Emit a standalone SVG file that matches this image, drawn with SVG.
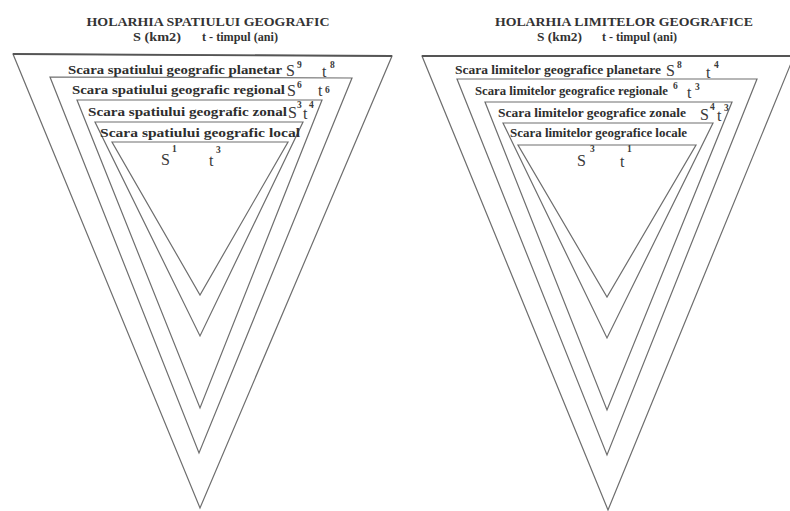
<svg xmlns="http://www.w3.org/2000/svg" width="790" height="511" viewBox="0 0 790 511">
<style>
.tri{fill:none;stroke:#6e6e6e;stroke-width:1.2;stroke-linejoin:miter}
.top{stroke:#555;stroke-width:1.8}
.ttl{font-family:"Liberation Serif",serif;font-weight:bold;font-size:12.5px;fill:#333}
.sub{font-family:"Liberation Serif",serif;font-weight:bold;font-size:11.5px;fill:#333}
.lbl{font-family:"Liberation Serif",serif;font-weight:bold;font-size:12px;fill:#2e2e2e}
.sym{font-family:"Liberation Serif",serif;font-size:16px;fill:#3a3a3a}
.sup{font-family:"Liberation Serif",serif;font-weight:bold;font-size:9.5px;fill:#3a3a3a}
</style>
<rect width="790" height="511" fill="#ffffff"/>
<g id="left-diagram">
<text class="ttl" x="208" y="26" text-anchor="middle" textLength="243" lengthAdjust="spacingAndGlyphs">HOLARHIA SPATIULUI GEOGRAFIC</text>
<text class="sub" x="133" y="41" textLength="48" lengthAdjust="spacingAndGlyphs">S (km2)</text>
<text class="sub" x="202" y="41" textLength="76" lengthAdjust="spacingAndGlyphs">t - timpul (ani)</text>
<g id="L1"><polygon class="tri" points="13,54 392,56 200,508"/><line class="tri top" x1="13" y1="54" x2="392" y2="56"/>
<text class="lbl" x="68" y="74" textLength="214" lengthAdjust="spacingAndGlyphs">Scara spatiului geografic planetar</text>
<text class="sym" x="286" y="76">S</text><text class="sup" x="297" y="68">9</text>
<text class="sym" x="322" y="77">t</text><text class="sup" x="330" y="68">8</text></g>
<g id="L2"><polygon class="tri" points="50,77 352,78 199,453"/>
<text class="lbl" x="72" y="94" textLength="213" lengthAdjust="spacingAndGlyphs">Scara spatiului geografic regional</text>
<text class="sym" x="287" y="96">S</text><text class="sup" x="297" y="88">6</text>
<text class="sym" x="318" y="96">t</text><text class="sup" x="325" y="93">6</text></g>
<g id="L3"><polygon class="tri" points="77,100 322,100 200,408"/>
<text class="lbl" x="88" y="116" textLength="199" lengthAdjust="spacingAndGlyphs">Scara spatiului geografic zonal</text>
<text class="sym" x="288" y="118">S</text><text class="sup" x="297" y="108">3</text>
<text class="sym" x="303" y="119">t</text><text class="sup" x="309" y="108">4</text></g>
<g id="L4"><polygon class="tri" points="95,122 303,122 200,336"/>
<text class="lbl" x="100" y="137" textLength="200" lengthAdjust="spacingAndGlyphs">Scara spatiului geografic local</text></g>
<g id="L5"><polygon class="tri" points="112,142 288,142 200,295"/>
<text class="sym" x="161" y="165">S</text><text class="sup" x="172" y="152">1</text>
<text class="sym" x="209" y="166">t</text><text class="sup" x="216" y="153">3</text></g>
</g>
<g id="right-diagram">
<text class="ttl" x="624" y="26" text-anchor="middle" textLength="258" lengthAdjust="spacingAndGlyphs">HOLARHIA LIMITELOR GEOGRAFICE</text>
<text class="sub" x="537" y="41" textLength="45" lengthAdjust="spacingAndGlyphs">S (km2)</text>
<text class="sub" x="602" y="41" textLength="75" lengthAdjust="spacingAndGlyphs">t - timpul (ani)</text>
<g id="R1"><polygon class="tri" points="422,56 794,56 608,510"/><line class="tri top" x1="422" y1="56" x2="794" y2="56"/>
<text class="lbl" x="455" y="74" textLength="206" lengthAdjust="spacingAndGlyphs">Scara limitelor geografice planetare</text>
<text class="sym" x="666" y="76">S</text><text class="sup" x="677" y="68">8</text>
<text class="sym" x="706" y="78">t</text><text class="sup" x="714" y="68">4</text></g>
<g id="R2"><polygon class="tri" points="457,79 757,79 607,455"/>
<text class="lbl" x="475" y="95" textLength="193" lengthAdjust="spacingAndGlyphs">Scara limitelor geografice regionale</text>
<text class="sup" x="673" y="89">6</text>
<text class="sym" x="687" y="98">t</text><text class="sup" x="695" y="90">3</text></g>
<g id="R3"><polygon class="tri" points="485,102 732,102 607,410"/>
<text class="lbl" x="498" y="117" textLength="188" lengthAdjust="spacingAndGlyphs">Scara limitelor geografice zonale</text>
<text class="sym" x="700" y="120">S</text><text class="sup" x="710" y="110">4</text>
<text class="sym" x="717" y="121">t</text><text class="sup" x="724" y="111">3</text></g>
<g id="R4"><polygon class="tri" points="503,123 713,123 607,338"/>
<text class="lbl" x="510" y="137" textLength="177" lengthAdjust="spacingAndGlyphs">Scara limitelor geografice locale</text></g>
<g id="R5"><polygon class="tri" points="518,145 696,145 607,297"/>
<text class="sym" x="577" y="166">S</text><text class="sup" x="590" y="152">3</text>
<text class="sym" x="620" y="167">t</text><text class="sup" x="627" y="152">1</text></g>
</g>
</svg>
